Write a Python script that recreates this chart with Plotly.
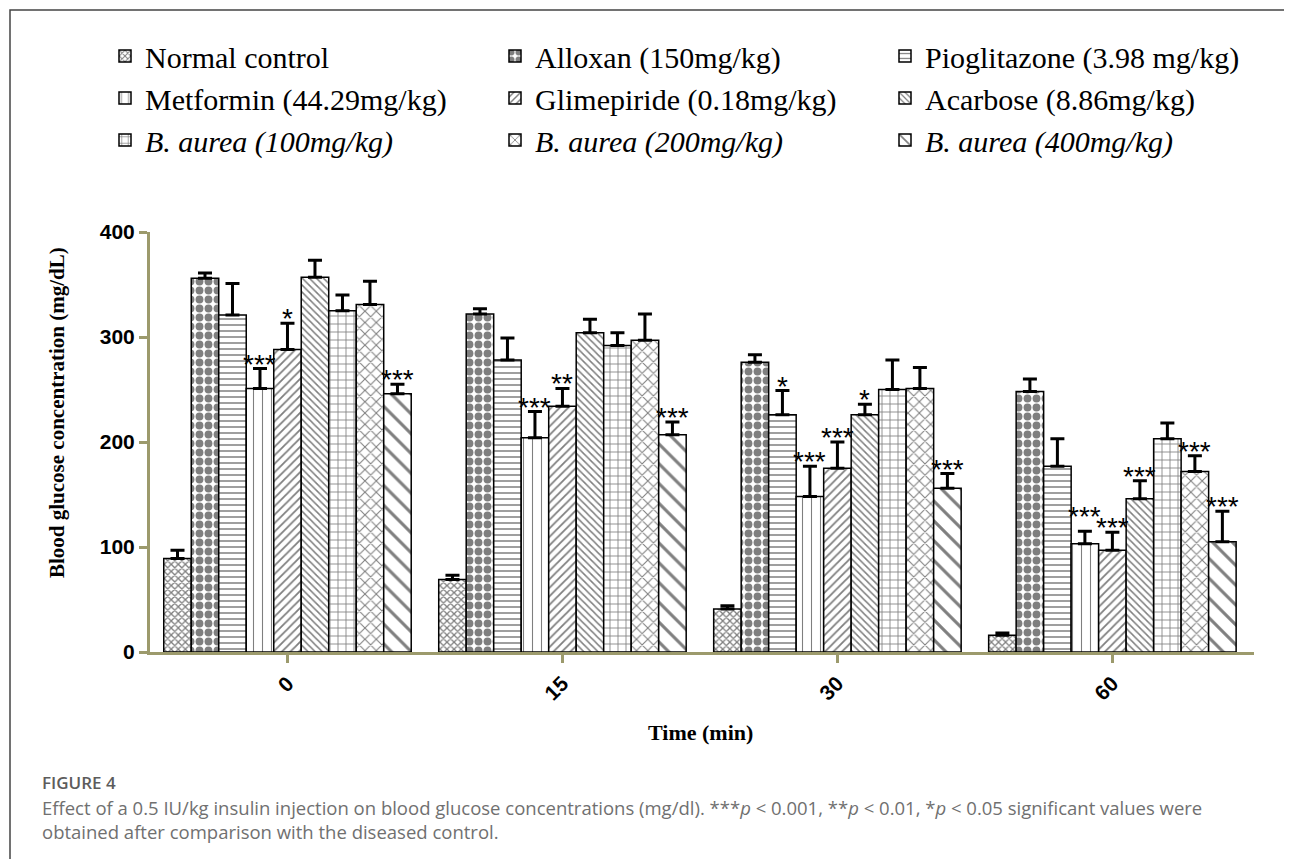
import plotly.graph_objects as go

# time points (min)
times = ["0", "15", "30", "60"]

groups = [
    "Normal control",
    "Alloxan (150mg/kg)",
    "Pioglitazone (3.98 mg/kg)",
    "Metformin (44.29mg/kg)",
    "Glimepiride (0.18mg/kg)",
    "Acarbose (8.86mg/kg)",
    "<i>B. aurea (100mg/kg)</i>",
    "<i>B. aurea (200mg/kg)</i>",
    "<i>B. aurea (400mg/kg)</i>",
]

# mean blood glucose (mg/dL) at 0, 15, 30, 60 min
normal_control = [89, 69, 41, 16]
alloxan = [356, 322, 276, 248]
pioglitazone = [321, 278, 226, 177]
metformin = [251, 204, 148, 103]
glimepiride = [288, 234, 175, 97]
acarbose = [357, 304, 226, 146]
aurea_100 = [325, 292, 250, 203]
aurea_200 = [331, 297, 251, 172]
aurea_400 = [246, 207, 156, 105]

# SEM (upper error bars only)
normal_control_err = [8, 4, 3, 2]
alloxan_err = [5, 5, 7, 12]
pioglitazone_err = [30, 21, 23, 26]
metformin_err = [19, 25, 29, 12]
glimepiride_err = [25, 17, 25, 17]
acarbose_err = [16, 13, 10, 17]
aurea_100_err = [15, 12, 28, 15]
aurea_200_err = [22, 25, 20, 15]
aurea_400_err = [9, 12, 14, 29]

# significance vs diseased control
normal_control_sig = ["", "", "", ""]
alloxan_sig = ["", "", "", ""]
pioglitazone_sig = ["", "", "*", ""]
metformin_sig = ["***", "***", "***", "***"]
glimepiride_sig = ["*", "**", "***", "***"]
acarbose_sig = ["", "", "*", "***"]
aurea_100_sig = ["", "", "", ""]
aurea_200_sig = ["", "", "", "***"]
aurea_400_sig = ["***", "***", "***", "***"]

values = [normal_control, alloxan, pioglitazone, metformin, glimepiride,
          acarbose, aurea_100, aurea_200, aurea_400]
errors = [normal_control_err, alloxan_err, pioglitazone_err, metformin_err,
          glimepiride_err, acarbose_err, aurea_100_err, aurea_200_err, aurea_400_err]
sigs = [normal_control_sig, alloxan_sig, pioglitazone_sig, metformin_sig,
        glimepiride_sig, acarbose_sig, aurea_100_sig, aurea_200_sig, aurea_400_sig]

# hatch pattern for each group: (shape, size, solidity)
patterns = [
    ("x", 5, 0.45),
    (".", 9, 0.6),
    ("-", 6, 0.25),
    ("|", 9, 0.12),
    ("/", 6, 0.3),
    ("\\", 5, 0.3),
    ("+", 8, 0.2),
    ("x", 8, 0.25),
    ("\\", 14, 0.22),
]

AXIS_COLOR = "#9c9a6c"
OFF = 8  # page body margin
W, H = 1292 - OFF, 859 - OFF
ML, MT = 150 - OFF, 232 - OFF
PW, PH = 1104, 420
MR = W - ML - PW
MB = H - MT - PH


# screen pixel -> paper coordinate
def px_x(px):
    return (px - OFF - ML) / PW


def px_y(py):
    return (MT + PH - (py - OFF)) / PH


xs = list(range(len(times)))
nb = len(groups)
bar_w = 0.9 / nb

fig = go.Figure()

for k in range(nb):
    shape, size, sol = patterns[k]
    fig.add_trace(go.Bar(
        x=xs, y=values[k], name=groups[k],
        marker=dict(color="white",
                    line=dict(color="black", width=1.5),
                    pattern=dict(shape=shape, size=size, solidity=sol,
                                 fgcolor="black", bgcolor="white")),
        error_y=dict(type="data", array=errors[k], arrayminus=[0] * len(times),
                     symmetric=False, color="black", thickness=3, width=7),
    ))

# significance stars above error bars (metformin at 60 min lifted, as in the original)
for k in range(nb):
    for i in range(len(times)):
        if sigs[k][i]:
            lift = 10 if (k == 3 and i == 3) else 0
            fig.add_annotation(
                x=i + (k - (nb - 1) / 2) * bar_w, y=values[k][i] + errors[k][i],
                xref="x", yref="y", text=sigs[k][i], showarrow=False,
                xanchor="center", yanchor="bottom", yshift=-13 + lift,
                font=dict(family="Liberation Sans", size=28, color="black"))

# axis titles
fig.add_annotation(x=px_x(57), y=px_y(413), xref="paper", yref="paper",
                   xanchor="center", yanchor="middle",
                   text="<b>Blood glucose concentration (mg/dL)</b>", textangle=-90,
                   showarrow=False,
                   font=dict(family="Liberation Serif", size=21, color="black"))
fig.add_annotation(x=px_x(700), y=px_y(732), xref="paper", yref="paper",
                   xanchor="center", yanchor="middle",
                   text="<b>Time (min)</b>", showarrow=False,
                   font=dict(family="Liberation Serif", size=22, color="black"))

# caption
cap_font = dict(family="Open Sans", size=18.5, color="#707070")
fig.add_annotation(x=px_x(40), y=px_y(782), xref="paper", yref="paper",
                   xanchor="left", yanchor="middle", text="FIGURE 4", showarrow=False,
                   font=dict(family="Open Sans", size=17, color="#5c5c5c", weight=600))
fig.add_annotation(x=px_x(40), y=px_y(807), xref="paper", yref="paper",
                   xanchor="left", yanchor="middle", showarrow=False, font=cap_font,
                   text="Effect of a 0.5 IU/kg insulin injection on blood glucose concentrations (mg/dl). "
                        "***<i>p</i> &lt; 0.001, **<i>p</i> &lt; 0.01, *<i>p</i> &lt; 0.05 significant values were")
fig.add_annotation(x=px_x(40), y=px_y(831), xref="paper", yref="paper",
                   xanchor="left", yanchor="middle", showarrow=False, font=cap_font,
                   text="obtained after comparison with the diseased control.")

# figure frame
fig.add_shape(type="rect", xref="paper", yref="paper",
              x0=px_x(10), x1=px_x(1310), y0=px_y(880), y1=px_y(10),
              line=dict(color="#444444", width=1.5), layer="below")

fig.update_layout(
    width=W, height=H,
    margin=dict(l=ML, r=MR, t=MT, b=MB),
    paper_bgcolor="white", plot_bgcolor="white",
    barmode="group", bargap=0.1, bargroupgap=0,
    showlegend=True,
    legend=dict(orientation="h", x=px_x(105), y=px_y(30), xanchor="left", yanchor="top",
                entrywidth=345, entrywidthmode="pixels",
                font=dict(family="Liberation Serif", size=30, color="black"),
                bgcolor="rgba(0,0,0,0)"),
    xaxis=dict(range=[-0.5, 3.515], tickmode="array", tickvals=xs, ticktext=times,
               tickangle=-45, showline=True, linecolor=AXIS_COLOR, linewidth=3,
               ticks="outside", ticklen=8, tickwidth=3, tickcolor=AXIS_COLOR,
               showgrid=False, zeroline=False,
               tickfont=dict(family="Liberation Sans", size=21, color="black", weight="bold")),
    yaxis=dict(range=[0, 400], tickvals=[0, 100, 200, 300, 400],
               showline=True, linecolor=AXIS_COLOR, linewidth=3,
               ticks="outside", ticklen=8, tickwidth=3, tickcolor=AXIS_COLOR,
               showgrid=False, zeroline=False,
               tickfont=dict(family="Liberation Sans", size=21, color="black", weight="bold")),
)

fig.write_html("out.html")
